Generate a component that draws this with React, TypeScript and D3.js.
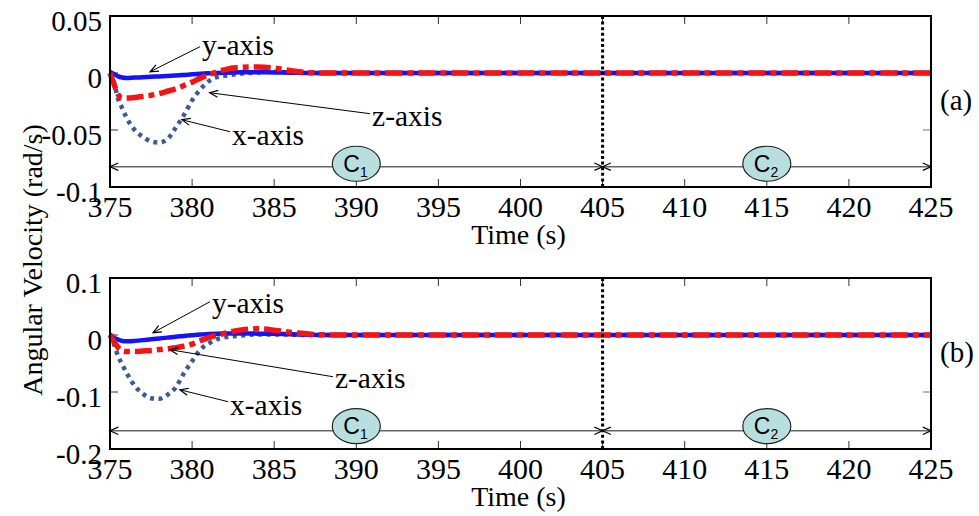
import React from "react";
import * as d3 from "d3";

// ---------- data ----------
const TIME = [375, 375.25, 375.5, 375.75, 376, 376.5, 377, 377.5, 378, 378.5, 379, 379.5, 380, 380.5, 381, 381.5, 382, 383, 384, 385, 386, 387, 388, 390, 400, 410, 425];

const X_AXIS_A = [0, -0.009, -0.023, -0.031, -0.039, -0.05, -0.056, -0.06, -0.061, -0.058, -0.048, -0.037, -0.024, -0.0145, -0.0074, -0.0037, -0.0025, -0.0005, 0.0005, 0.001, 0.0005, 0, 0, 0, 0, 0, 0];
const Y_AXIS_A = [0.001, -0.001, -0.003, -0.004, -0.0044, -0.004, -0.0037, -0.0033, -0.003, -0.0026, -0.0022, -0.0017, -0.0012, -0.0007, -0.0003, 0, 0.0003, 0.0006, 0.0006, 0.0005, 0.0003, 0.0001, 0, 0, 0, 0, 0];
const Z_AXIS_A = [0, -0.01, -0.019, -0.022, -0.022, -0.0215, -0.0205, -0.0195, -0.018, -0.016, -0.014, -0.011, -0.008, -0.0045, -0.0015, 0.001, 0.003, 0.005, 0.0053, 0.0044, 0.002, 0.0005, 0, 0, 0, 0, 0];

const X_AXIS_B = [0, -0.017, -0.0375, -0.052, -0.066, -0.089, -0.103, -0.111, -0.112, -0.105, -0.092, -0.067, -0.046, -0.026, -0.015, -0.0075, -0.004, -0.001, 0.001, 0.001, 0.0005, 0, 0, 0, 0, 0, 0];
const Y_AXIS_B = [0.001, -0.005, -0.008, -0.0105, -0.011, -0.0103, -0.009, -0.0074, -0.006, -0.0046, -0.003, -0.0017, -0.0003, 0.001, 0.0017, 0.0023, 0.0025, 0.0025, 0.0024, 0.002, 0.0012, 0.0005, 0, 0, 0, 0, 0];
const Z_AXIS_B = [0, -0.012, -0.022, -0.028, -0.029, -0.029, -0.028, -0.027, -0.0255, -0.024, -0.0225, -0.0195, -0.016, -0.01, -0.0045, -0.0005, 0.003, 0.009, 0.0108, 0.0085, 0.0045, 0.002, 0.0003, 0, 0, 0, 0];

const X_TICKS = [375, 380, 385, 390, 395, 400, 405, 410, 415, 420, 425];
const Y_TICKS_A = [0.05, 0, -0.05, -0.1];
const Y_TICKS_B = [0.1, 0, -0.1, -0.2];
const Y_TICK_LABELS_A = ["0.05", "0", "-0.05", "-0.1"];
const Y_TICK_LABELS_B = ["0.1", "0", "-0.1", "-0.2"];

const PHASE_BOUNDS = [375, 405, 425];
const PHASE_LABELS = ["1", "2"];
const PHASE_CENTERS = [390, 415];
const SWITCH_TIME = 405;

// annotation: label, text pos (t,v), arrow start (t,v), arrow tip (t,v)
const ANNOT_A = [
  { label: "y-axis", tx: 380.6, tv: 0.016, sx: 380.48, sv: 0.0231, ex: 377.44, ev: 0.0011 },
  { label: "z-axis", tx: 390.96, tv: -0.0462, sx: 390.83, sv: -0.0357, ex: 381.07, ev: -0.0173 },
  { label: "x-axis", tx: 382.43, tv: -0.0629, sx: 382.31, sv: -0.0515, ex: 379.38, ev: -0.041 },
];
const ANNOT_B = [
  { label: "y-axis", tx: 381.21, tv: 0.0391, sx: 381.09, sv: 0.0584, ex: 377.62, ev: 0.004 },
  { label: "z-axis", tx: 388.7, tv: -0.0925, sx: 388.58, sv: -0.0732, ex: 378.65, ev: -0.0258 },
  { label: "x-axis", tx: 382.31, tv: -0.1398, sx: 382.19, sv: -0.117, ex: 379.26, ev: -0.0961 },
];

const SERIF = "'Liberation Serif', 'Times New Roman', serif";
const SANS = "'Liberation Sans', Arial, sans-serif";

const LEFT = 110;
const RIGHT = 931;

function Chevron({ x, y, angle, size = 9, spread = 0.42, color = "#000", width = 1.2 }: any) {
  const a1 = angle + Math.PI - spread;
  const a2 = angle + Math.PI + spread;
  const d = `M${x + size * Math.cos(a1)},${y + size * Math.sin(a1)}L${x},${y}L${x + size * Math.cos(a2)},${y + size * Math.sin(a2)}`;
  return <path d={d} fill="none" stroke={color} strokeWidth={width} />;
}

function Panel({ top, bottom, yDomain, yTicks, yTickLabels, xs, ys, zs, annots, phaseV, ellipseV, tag, tagBaseline }: any) {
  const x = d3.scaleLinear().domain([375, 425]).range([LEFT, RIGHT]);
  const y = d3.scaleLinear().domain(yDomain).range([bottom, top]);
  const line = (vals: number[]) =>
    d3.line<number>().x((_, i) => x(TIME[i])).y((v) => y(v)).curve(d3.curveMonotoneX)(vals) as string;

  const tickLen = 8;
  const phaseY = y(phaseV);
  const ellY = y(ellipseV);

  return (
    <g>
      {/* ticks */}
      {X_TICKS.map((t) => (
        <g key={"xt" + t}>
          <line x1={x(t)} x2={x(t)} y1={bottom} y2={bottom - tickLen} stroke="#333" strokeWidth={1} />
          <line x1={x(t)} x2={x(t)} y1={top} y2={top + tickLen} stroke="#333" strokeWidth={1} />
          <text x={x(t)} y={bottom + 30} textAnchor="middle" fontFamily={SERIF} fontSize={30} fill="#000">
            {t}
          </text>
        </g>
      ))}
      {yTicks.map((v: number, i: number) => (
        <g key={"yt" + v}>
          <line x1={LEFT} x2={LEFT + tickLen} y1={y(v)} y2={y(v)} stroke="#333" strokeWidth={1} />
          <line x1={RIGHT} x2={RIGHT - tickLen} y1={y(v)} y2={y(v)} stroke="#777" strokeWidth={1} />
          <text x={102} y={y(v) + 15} textAnchor="end" fontFamily={SERIF} fontSize={29} fill="#000">
            {yTickLabels[i]}
          </text>
        </g>
      ))}

      {/* series */}
      <path d={line(xs)} fill="none" stroke="#3B5B92" strokeWidth={4.5} strokeDasharray="4,4.5" />
      <path d={line(ys)} fill="none" stroke="#1414F5" strokeWidth={4.5} />
      <path d={line(zs)} fill="none" stroke="#F51414" strokeWidth={5.5} strokeDasharray="17,5,6,5" />

      {/* switching line */}
      <line x1={x(SWITCH_TIME)} x2={x(SWITCH_TIME)} y1={top} y2={bottom} stroke="#000" strokeWidth={3} strokeDasharray="3,2.6" />

      {/* phase arrows */}
      {PHASE_LABELS.map((lab, i) => {
        const x1 = x(PHASE_BOUNDS[i]);
        const x2 = x(PHASE_BOUNDS[i + 1]);
        const cx = x(PHASE_CENTERS[i]);
        return (
          <g key={"ph" + i}>
            <line x1={x1} x2={x2} y1={phaseY} y2={phaseY} stroke="#666" strokeWidth={1.5} />
            <Chevron x={x1} y={phaseY} angle={Math.PI} />
            <Chevron x={x2} y={phaseY} angle={0} />
            <ellipse cx={cx} cy={ellY} rx={24} ry={17.5} fill="#B8DFDF" stroke="#222" strokeWidth={1.2} />
            <text x={cx - 13} y={ellY + 8} fontFamily={SANS} fontSize={23} fill="#000">
              C<tspan fontSize={14} dy={5}>{lab}</tspan>
            </text>
          </g>
        );
      })}

      {/* annotations */}
      {annots.map((a: any) => {
        const sx = x(a.sx), sy = y(a.sv), ex = x(a.ex), ey = y(a.ev);
        const ang = Math.atan2(ey - sy, ex - sx);
        return (
          <g key={a.label}>
            <line x1={sx} y1={sy} x2={ex} y2={ey} stroke="#000" strokeWidth={1} />
            <Chevron x={ex} y={ey} angle={ang} size={9} spread={0.4} width={1.2} />
            <text x={x(a.tx)} y={y(a.tv)} fontFamily={SERIF} fontSize={29.5} fill="#000">
              {a.label}
            </text>
          </g>
        );
      })}

      {/* frame */}
      <rect x={LEFT} y={top} width={RIGHT - LEFT} height={bottom - top} fill="none" stroke="#000" strokeWidth={2} />

      <text x={(LEFT + RIGHT) / 2 - 2} y={bottom + 57} textAnchor="middle" fontFamily={SERIF} fontSize={28} fill="#000">
        Time (s)
      </text>
      <text x={940} y={tagBaseline} fontFamily={SERIF} fontSize={29} fill="#000">
        {tag}
      </text>
    </g>
  );
}

export default function App() {
  return (
    <svg width={979} height={516} style={{ position: "absolute", left: 0, top: 0, background: "#fff" }}>
      <rect x={0} y={0} width={979} height={516} fill="#fff" />
      <Panel
        top={16}
        bottom={187}
        yDomain={[-0.1, 0.05]}
        yTicks={Y_TICKS_A}
        yTickLabels={Y_TICK_LABELS_A}
        xs={X_AXIS_A}
        ys={Y_AXIS_A}
        zs={Z_AXIS_A}
        annots={ANNOT_A}
        phaseV={-0.0822}
        ellipseV={-0.0796}
        tag="(a)"
        tagBaseline={110}
      />
      <Panel
        top={278}
        bottom={449}
        yDomain={[-0.2, 0.1]}
        yTicks={Y_TICKS_B}
        yTickLabels={Y_TICK_LABELS_B}
        xs={X_AXIS_B}
        ys={Y_AXIS_B}
        zs={Z_AXIS_B}
        annots={ANNOT_B}
        phaseV={-0.168}
        ellipseV={-0.16}
        tag="(b)"
        tagBaseline={362}
      />
      <text
        transform="translate(42,260) rotate(-90)"
        textAnchor="middle"
        fontFamily={SERIF}
        fontSize={28}
        fill="#000"
      >
        Angular Velocity (rad/s)
      </text>
    </svg>
  );
}
